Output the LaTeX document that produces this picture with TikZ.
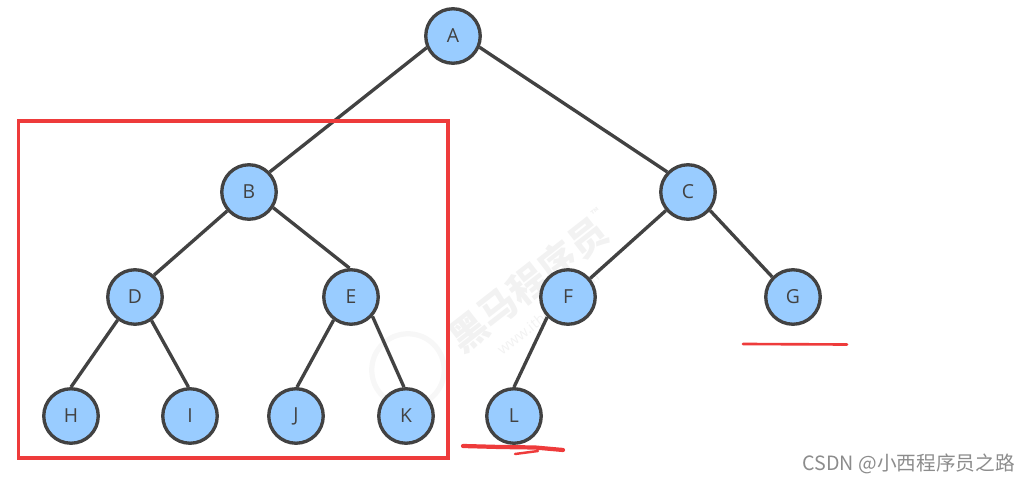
\documentclass[tikz,border=0pt]{standalone}
\usepackage{fontspec}
\setmainfont{Open Sans}
\newfontfamily\cjkfont{Noto Sans CJK SC}
\usepackage{xcolor}
\usetikzlibrary{positioning}
\definecolor{nodefill}{HTML}{99CCFF}
\definecolor{nodeline}{HTML}{424242}
\definecolor{markred}{HTML}{EE3B3B}

\begin{document}
\begin{tikzpicture}[
  x=0.02cm, y=-0.02cm,
  tree/.style={draw=nodeline, line width=1.9pt, circle, fill=nodefill, minimum size=1.09cm, inner sep=0pt, font=\fontsize{11}{13}\selectfont, text=nodeline},
  edge/.style={draw=nodeline, line width=1.9pt},
  redline/.style={draw=markred, line cap=round},
  wm/.style={rotate=38, text=black!5}
]
  \useasboundingbox (0,0) rectangle (1029,483);

  % faint watermark
  \node[wm, font=\cjkfont\bfseries\fontsize{21.5}{24}\selectfont] (logo) at (531,282) {黑马程序员\raisebox{1.2ex}{\fontsize{6}{7}\selectfont ™}};
  \node[wm, font=\fontsize{8.5}{10}\selectfont] (site) at (548,313) {www.itheima.com};
  \node[draw=black!3, line width=3pt, circle, minimum size=1.45cm] (ring) at (408,370) {};

  \node[tree] (A) at (453,36) {A};
  \node[tree] (B) at (249,192) {B};
  \node[tree] (C) at (688,192) {C};
  \node[tree] (D) at (135,297) {D};
  \node[tree] (E) at (351,297) {E};
  \node[tree] (F) at (568,297) {F};
  \node[tree] (G) at (793,297) {G};
  \node[tree] (H) at (71,416) {H};
  \node[tree] (I) at (190,416) {I};
  \node[tree] (J) at (296,416) {J};
  \node[tree] (K) at (406,416) {K};
  \node[tree] (L) at (514,416) {L};

  \draw[edge] (A.204) -- (B.44);
  \draw[edge] (A.-23) -- (C.136);
  \draw[edge] (B.221) -- (D.49);
  \draw[edge] (B.-33) -- (E.93);
  \draw[edge] (C.220) -- (F.40);
  \draw[edge] (C.-40) -- (G.136);
  \draw[edge] (D.233) -- (H.90);
  \draw[edge] (D.305) -- (I.93);
  \draw[edge] (E.233) -- (J.88);
  \draw[edge] (E.-42) -- (K.94);
  \draw[edge] (F.224) -- (L.90);

  % red marks
  \draw[markred, line width=1.8pt] (18.5,121) rectangle (448,458);
  \draw[redline, line width=1.5pt] (743,344) -- (847,344.5);
  \draw[redline, line width=2.4pt] (463,446) -- (500,447) -- (535,447.5) -- (563,450);
  \draw[redline, line width=1.4pt] (515,454) -- (538,451);

  \node[anchor=east, text=black!45, font=\cjkfont\fontsize{11.2}{13}\selectfont] (csdn) at (1021,464) {CSDN @小西程序员之路};
\end{tikzpicture}
\end{document}
